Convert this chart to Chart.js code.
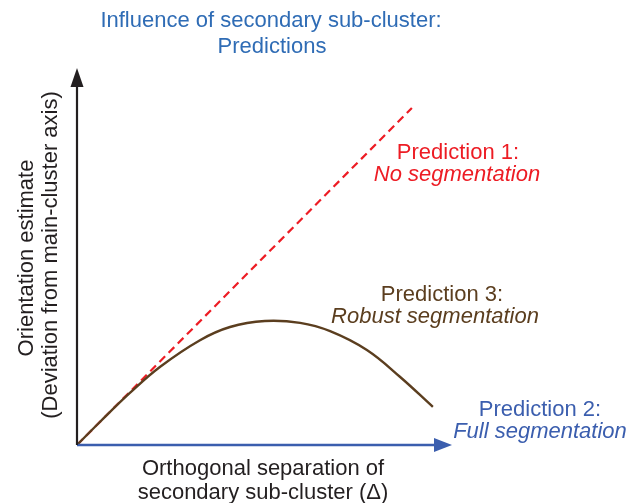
<!DOCTYPE html>
<html><head><meta charset="utf-8">
<script src="https://cdn.jsdelivr.net/npm/chart.js@4/dist/chart.umd.min.js"></script>
<style>html,body{margin:0;padding:0;background:#fff}#wrap{width:644px;height:503px}</style>
</head><body><div id="wrap"><canvas id="c" width="644" height="503"></canvas></div>
<script>
const noSegX = [0, 8.93];
const noSegY = [0, 8.94];
const fullSegX = [0, 9.55];
const fullSegY = [0, 0];
const robustX = [0, 0.61, 1.41, 2.21, 3.28, 4.08, 5.01, 5.95, 6.75, 7.73, 8.61, 9.49];
const robustY = [0, 0.61, 1.38, 2.07, 2.78, 3.13, 3.29, 3.24, 3.02, 2.52, 1.81, 1.01];

const toPts = (xs, ys) => xs.map((x, i) => ({x, y: ys[i]}));
const FONT = '"Liberation Sans", Arial, Helvetica, sans-serif';

const decor = {
  id: 'decor',
  afterDatasetsDraw(chart) {
    const ctx = chart.ctx, a = chart.chartArea;
    const xs = chart.scales.x, ys = chart.scales.y;
    const ox = xs.getPixelForValue(0), oy = ys.getPixelForValue(0);
    ctx.save();
    // y axis
    ctx.strokeStyle = '#231f20'; ctx.lineWidth = 2.2;
    ctx.beginPath(); ctx.moveTo(ox, oy); ctx.lineTo(ox, a.top + 15); ctx.stroke();
    ctx.fillStyle = '#231f20';
    ctx.beginPath(); ctx.moveTo(ox, a.top); ctx.lineTo(ox - 6.5, a.top + 19); ctx.lineTo(ox + 6.5, a.top + 19); ctx.closePath(); ctx.fill();
    // x axis arrow head
    ctx.fillStyle = '#3b5eae';
    ctx.beginPath(); ctx.moveTo(a.right, oy); ctx.lineTo(a.right - 18, oy - 7); ctx.lineTo(a.right - 18, oy + 7); ctx.closePath(); ctx.fill();
    // texts
    ctx.textAlign = 'center'; ctx.textBaseline = 'middle';
    const F = '22px ' + FONT, FI = 'italic 22px ' + FONT;
    ctx.font = F;
    ctx.fillStyle = '#2f6cb5';
    ctx.fillText('Influence of secondary sub-cluster:', 271, 21);
    ctx.fillText('Predictions', 272, 47);
    ctx.fillStyle = '#231f20';
    ctx.fillText('Orthogonal separation of', 263, 469);
    ctx.fillText('secondary sub-cluster (\u0394)', 263, 493);
    ctx.save(); ctx.translate(27, 258); ctx.rotate(-Math.PI/2);
    ctx.fillText('Orientation estimate', 0, 0); ctx.restore();
    ctx.save(); ctx.translate(51, 255); ctx.rotate(-Math.PI/2);
    ctx.fillText('(Deviation from main-cluster axis)', 0, 0); ctx.restore();
    ctx.fillStyle = '#ed1c24';
    ctx.fillText('Prediction 1:', 458, 153);
    ctx.font = FI;
    ctx.fillText('No segmentation', 457, 175);
    ctx.fillStyle = '#5b3e1f';
    ctx.font = F;
    ctx.fillText('Prediction 3:', 442, 295);
    ctx.font = FI;
    ctx.fillText('Robust segmentation', 435, 317);
    ctx.fillStyle = '#3b5eae';
    ctx.font = F;
    ctx.fillText('Prediction 2:', 540, 410);
    ctx.font = FI;
    ctx.fillText('Full segmentation', 540, 432);
    ctx.restore();
  }
};

new Chart(document.getElementById('c'), {
  type: 'scatter',
  data: {
    datasets: [
      {label: 'Prediction 2', data: toPts(fullSegX, fullSegY), showLine: true, borderColor: '#3b5eae', borderWidth: 2.5, pointRadius: 0, clip: false},
      {label: 'Prediction 3', data: toPts(robustX, robustY), showLine: true, borderColor: '#5b3e1f', borderWidth: 2.4, pointRadius: 0, tension: 0.4, clip: false},
      {label: 'Prediction 1', data: toPts(noSegX, noSegY), showLine: true, borderColor: '#ed1c24', borderWidth: 2.2, borderDash: [8, 5], pointRadius: 0, clip: false}
    ]
  },
  options: {
    responsive: false, animation: false, devicePixelRatio: 1,
    layout: {padding: {left: 77, right: 192, top: 68, bottom: 58}},
    plugins: {legend: {display: false}, tooltip: {enabled: false}, title: {display: false}},
    scales: {
      x: {type: 'linear', min: 0, max: 10, display: false},
      y: {type: 'linear', min: 0, max: 10, display: false}
    }
  },
  plugins: [decor]
});
</script></body></html>
